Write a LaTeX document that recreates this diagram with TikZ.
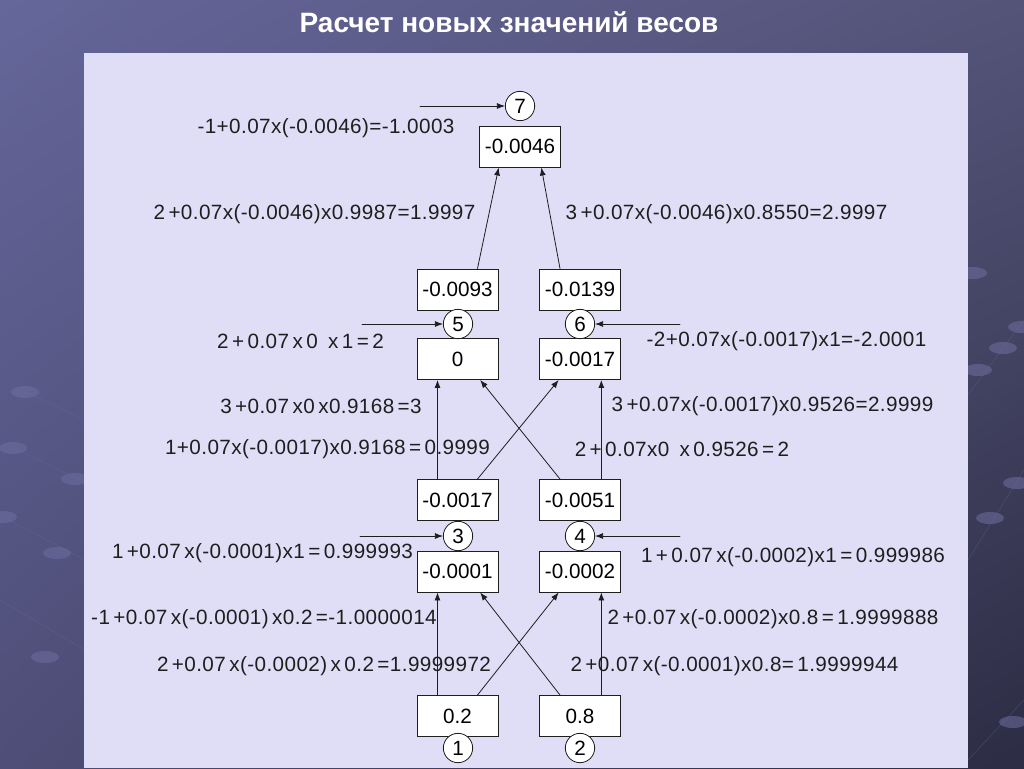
\documentclass[tikz,border=0pt]{standalone}
\usepackage{fontspec}
\setmainfont{Liberation Sans}
\usetikzlibrary{arrows.meta,shadings}
\definecolor{SlideTL}{HTML}{65669A}
\definecolor{SlideTR}{HTML}{545479}
\definecolor{SlideBL}{HTML}{4E4E78}
\definecolor{SlideBR}{HTML}{2C2C44}
\definecolor{PanelLilac}{HTML}{E0DEF6}
\definecolor{InkGray}{HTML}{1E1E1E}
\definecolor{DotBlue}{HTML}{6E6EA0}

\begin{document}
\begin{tikzpicture}[x=0.75pt,y=-0.75pt,line cap=round,
  wbox/.style={draw=InkGray,fill=white,line width=0.7pt,minimum width=60.75pt,minimum height=30.75pt,inner sep=0pt,font=\fontsize{15.5}{17}\selectfont},
  num/.style={draw=InkGray,fill=white,circle,line width=0.6pt,minimum size=22pt,inner sep=0pt,font=\fontsize{15.5}{17}\selectfont},
  eq/.style={text=InkGray,inner sep=0pt,font=\fontsize{15.5}{17}\selectfont\addfontfeatures{LetterSpace=2}},
  arr/.style={InkGray,line width=0.6pt,-{Latex[length=6pt,width=4.5pt]}}]
  \useasboundingbox (0,0) rectangle (1024,768);
  \shade[upper left=SlideTL,upper right=SlideTR,lower left=SlideBL,lower right=SlideBR] (0,0) rectangle (1024,768);
  \foreach \px/\py in {25/392,13/448,75/479,3/517,57/553,45/657,973/273,1022/327,1003/348,978/370,1017/483,990/518,1013/722}
    \fill[DotBlue,opacity=0.55] (\px,\py) ellipse (14 and 6);
  \draw[DotBlue,opacity=0.35] (25,392) -- (85,420) (13,448) -- (85,482) (3,517) -- (85,560) (0,600) -- (85,650);
  \draw[DotBlue,opacity=0.35] (968,395) -- (1024,320) (968,560) -- (1024,470) (968,760) -- (1024,700);
  \fill[PanelLilac] (84,53) rectangle (968,768);
  \node[text=white,font=\fontsize{21}{24}\selectfont\bfseries] (title) at (509,22) {Расчет новых значений весов};

  \node[wbox] (b7) at (520,146.5) {-0.0046};
  \node[num] (c7) at (520,106) {7};
  \node[wbox] (b5u) at (457.5,289.5) {-0.0093};
  \node[wbox] (b6u) at (580,289.5) {-0.0139};
  \node[wbox] (b5) at (457.5,359) {0};
  \node[wbox] (b6) at (580,359) {-0.0017};
  \node[num] (c5) at (458,324) {5};
  \node[num] (c6) at (580,324) {6};
  \node[wbox] (b3u) at (457.5,500) {-0.0017};
  \node[wbox] (b4u) at (580,500) {-0.0051};
  \node[wbox] (b3) at (457.5,571.5) {-0.0001};
  \node[wbox] (b4) at (580,571.5) {-0.0002};
  \node[num] (c3) at (458,536) {3};
  \node[num] (c4) at (580,536) {4};
  \node[wbox] (b1) at (457.5,716) {0.2};
  \node[wbox] (b2) at (580,716) {0.8};
  \node[num] (c1) at (458,748) {1};
  \node[num] (c2) at (580,748) {2};

  \coordinate (in7) at (420,106); \coordinate (in5) at (362,324); \coordinate (in6) at (680,324);
  \coordinate (in3) at (360,536); \coordinate (in4) at (680,536);
  \draw[arr] (in7) -- (c7); \draw[arr] (in5) -- (c5); \draw[arr] (in6) -- (c6);
  \draw[arr] (in3) -- (c3); \draw[arr] (in4) -- (c4);

  \draw[arr] ([xshift=15pt]b5u.north) -- ([xshift=-16pt]b7.south);
  \draw[arr] ([xshift=-15pt]b6u.north) -- ([xshift=16pt]b7.south);
  \draw[arr] ([xshift=-15pt]b3u.north) -- ([xshift=-15pt]b5.south);
  \draw[arr] ([xshift=15pt]b3u.north) -- ([xshift=-16pt]b6.south);
  \draw[arr] ([xshift=-15pt]b4u.north) -- ([xshift=17pt]b5.south);
  \draw[arr] ([xshift=16pt]b4u.north) -- ([xshift=16pt]b6.south);
  \draw[arr] ([xshift=-15pt]b1.north) -- ([xshift=-15pt]b3.south);
  \draw[arr] ([xshift=15pt]b1.north) -- ([xshift=-16pt]b4.south);
  \draw[arr] ([xshift=-15pt]b2.north) -- ([xshift=17pt]b3.south);
  \draw[arr] ([xshift=16pt]b2.north) -- ([xshift=16pt]b4.south);

  \node[eq] (e7) at (326,128) {-1+0.07x(-0.0046)=-1.0003};
  \node[eq] (e57) at (314.5,214) {2\,+0.07x(-0.0046)x0.9987=1.9997};
  \node[eq] (e67) at (726.5,214) {3\,+0.07x(-0.0046)x0.8550=2.9997};
  \node[eq] (e5) at (300.5,341) {2\,+\,0.07\,x\,0\,\,\,x\,1\,=\,2};
  \node[eq] (e6) at (786.5,341) {-2+0.07x(-0.0017)x1=-2.0001};
  \node[eq] (e35) at (321,406) {3\,+0.07\,x0\,x0.9168\,=3};
  \node[eq] (e46) at (772.5,406) {3\,+0.07x(-0.0017)x0.9526=2.9999};
  \node[eq] (e36) at (327.5,449) {1+0.07x(-0.0017)x0.9168\,=\,0.9999};
  \node[eq] (e45) at (682,449) {2\,+\,0.07x0\,\,\,x\,0.9526\,=\,2};
  \node[eq] (e3) at (262.5,553) {1\,+0.07\,x(-0.0001)x1\,=\,0.999993};
  \node[eq] (e4) at (793,557) {1\,+\,0.07\,x(-0.0002)x1\,=\,0.999986};
  \node[eq] (e13) at (264,619) {-1\,+0.07\,x(-0.0001)\,x0.2\,=-1.0000014};
  \node[eq] (e24) at (773,619) {2\,+0.07\,x(-0.0002)x0.8\,=\,1.9999888};
  \node[eq] (e23) at (324,666) {2\,+0.07\,x(-0.0002)\,x\,0.2\,=1.9999972};
  \node[eq] (e14) at (734.5,666) {2\,+0.07\,x(-0.0001)x0.8=\,1.9999944};
\end{tikzpicture}
\end{document}
